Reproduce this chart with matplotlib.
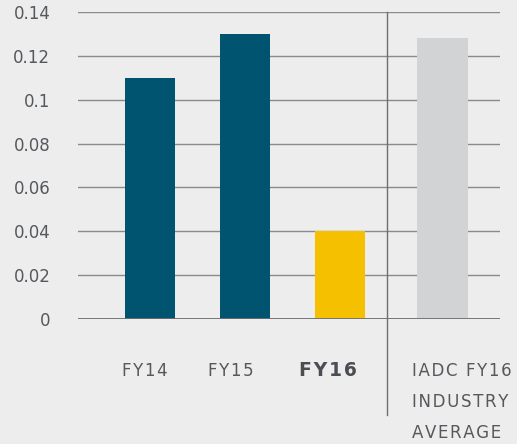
import matplotlib
matplotlib.use("Agg")
import matplotlib.pyplot as plt
import matplotlib.transforms as mtransforms

# values
labels = ["FY14", "FY15", "FY16", "IADC FY16\nINDUSTRY\nAVERAGE"]
values = [0.11, 0.13, 0.04, 0.128]
colors = ["#00546f", "#00546f", "#f5c000", "#d2d3d5"]
positions = [0, 1, 2, 3.08]
label_shift = [-0.05, -0.15, -0.13, -0.32]
yticks = [0, 0.02, 0.04, 0.06, 0.08, 0.1, 0.12, 0.14]
ytick_labels = ["0", "0.02", "0.04", "0.06", "0.08", "0.1", "0.12", "0.14"]

BG = "#ededed"
TXT = "#55585c"
SP = "\u200a"  # hair space for letter spacing


def spaced(s):
    return "\n".join(SP.join(line) for line in s.split("\n"))


fig = plt.figure(figsize=(5.17, 4.44), dpi=100, facecolor=BG)
ax = fig.add_axes([0.151, 0.2815, 0.816, 0.6915], facecolor=BG)

ax.set_ylim(0, 0.14)
ax.set_xlim(-0.758, 3.684)
ax.set_yticks(yticks)
ax.yaxis.grid(True, color="#8a8a8a", linewidth=1)
ax.set_axisbelow(True)
for s in ax.spines.values():
    s.set_visible(False)
ax.axhline(0, color="#6d6e72", linewidth=2, zorder=3)

ax.bar(positions, values, width=0.53, color=colors, zorder=2)

ax.set_yticklabels(ytick_labels, fontsize=12, color=TXT)
ax.tick_params(axis="y", length=0, pad=20)
ax.tick_params(axis="x", length=0)
ax.set_xticks([])

# divider between company years and industry average
ax.axvline(2.49, ymin=-0.313, ymax=1, color="#6d6e72", linewidth=1, clip_on=False)

trans = mtransforms.blended_transform_factory(ax.transData, ax.transAxes)
for lab, x, dx in zip(labels, positions, label_shift):
    if "\n" in lab:
        ax.text(x + dx, -0.139, spaced(lab), transform=trans, ha="left", va="top",
                fontsize=12, color=TXT, linespacing=1.93)
    else:
        bold = lab == "FY16"
        ax.text(x + dx, -0.169, spaced(lab), transform=trans, ha="center", va="center",
                fontsize=13.5 if bold else 12, color="#4a4d52" if bold else TXT,
                fontweight="bold" if bold else "normal")

fig.savefig("out.png", dpi=100, facecolor=BG)
